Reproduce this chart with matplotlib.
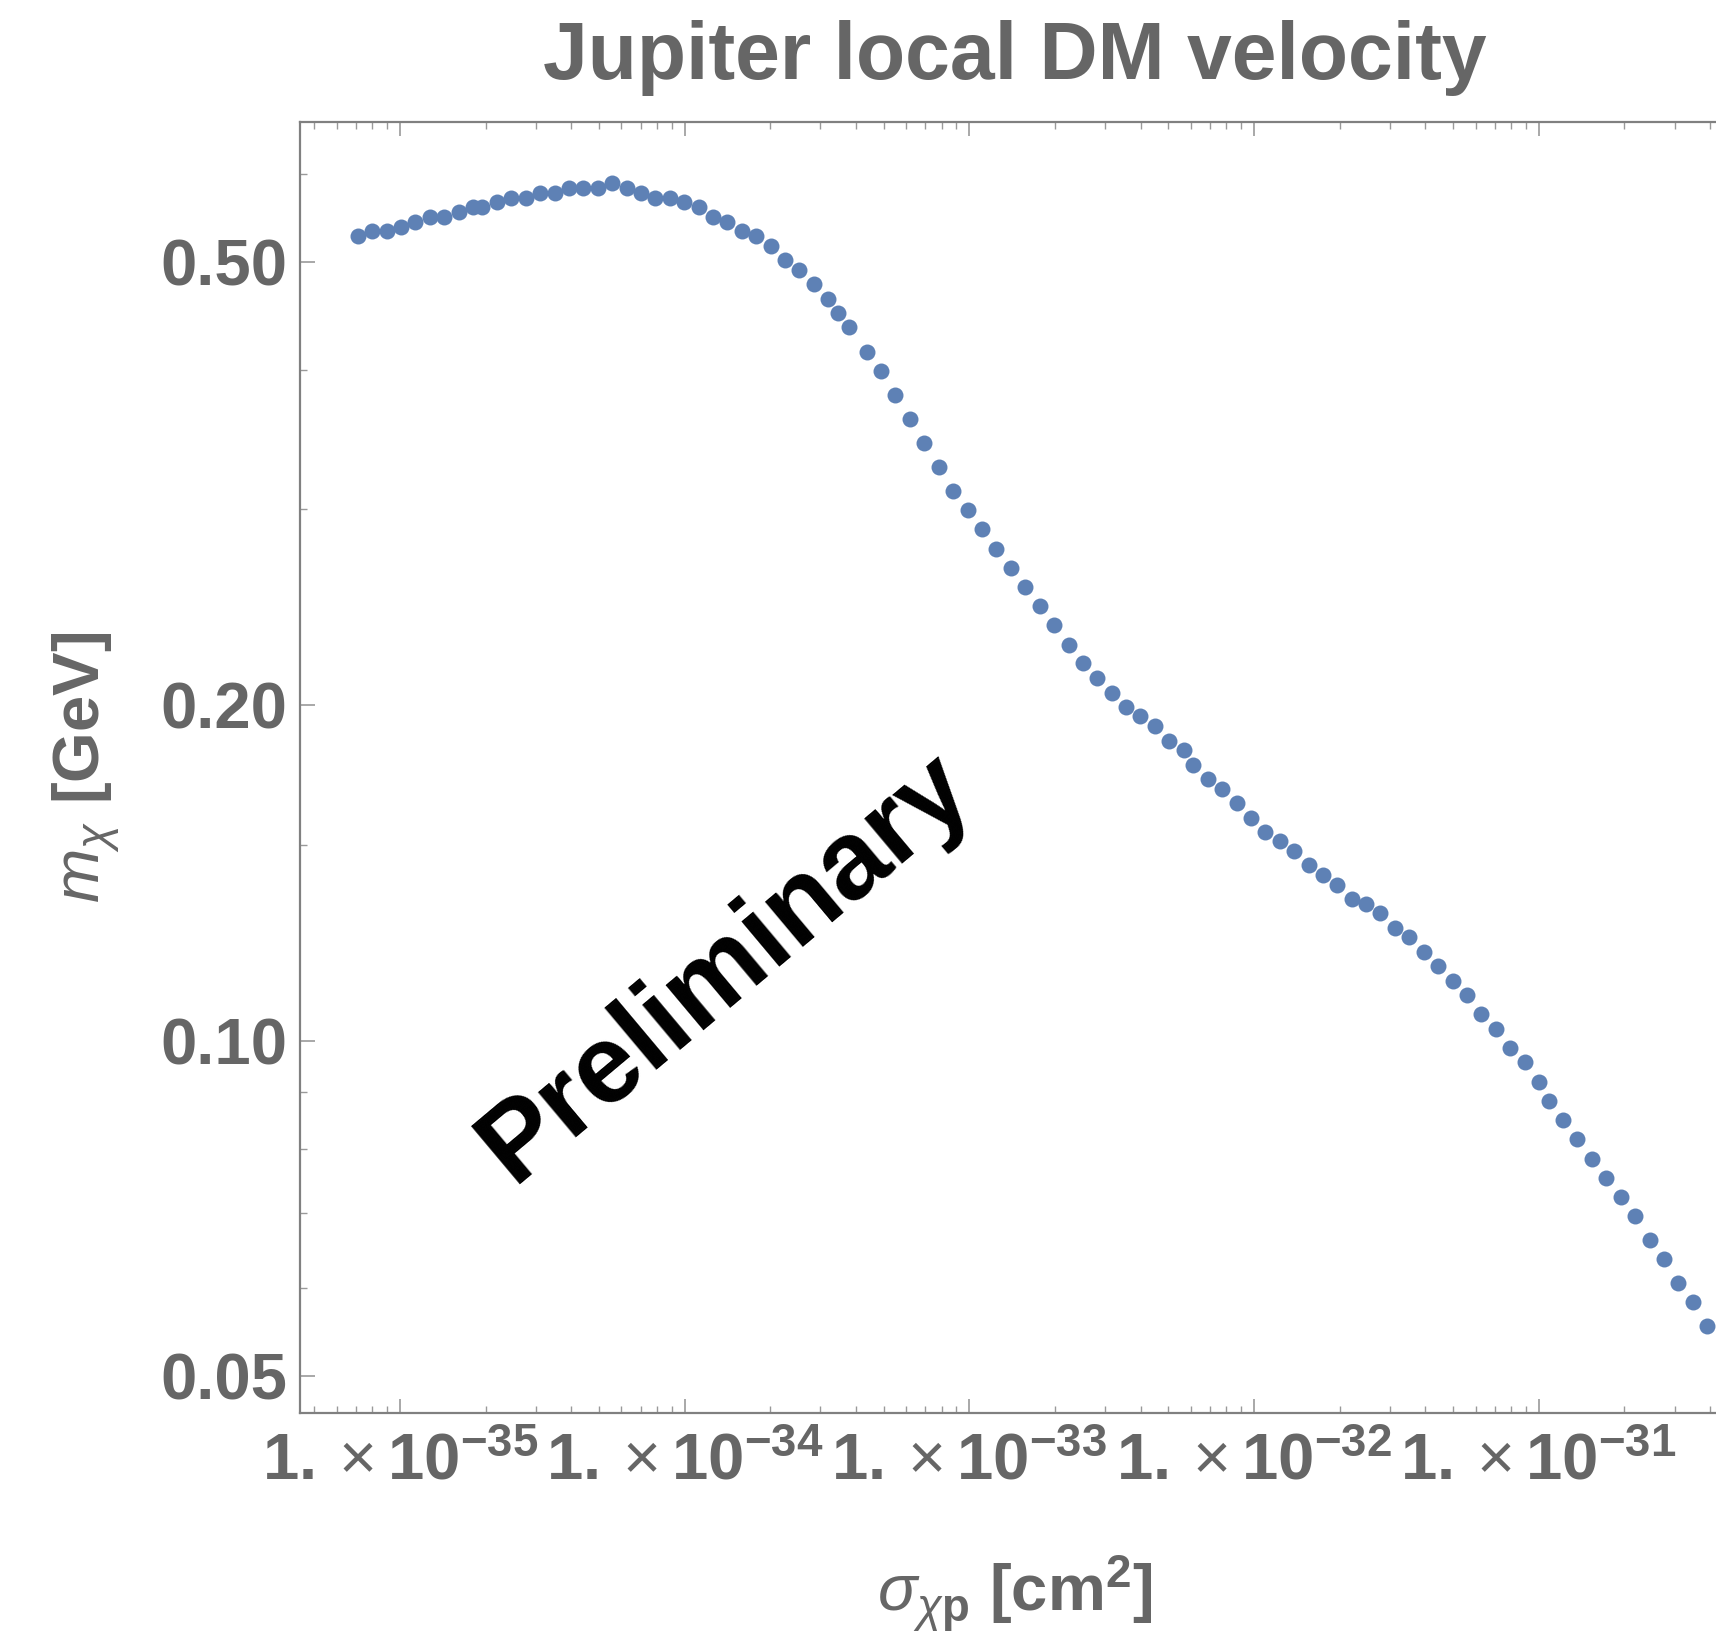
import numpy as np
import matplotlib
matplotlib.use("Agg")
import matplotlib.pyplot as plt
from matplotlib.ticker import FixedLocator, LogLocator, NullFormatter, FuncFormatter

plt.rcParams['font.family'] = ['Liberation Sans', 'DejaVu Sans']
plt.rcParams['mathtext.fontset'] = 'custom'
plt.rcParams['mathtext.rm'] = 'Liberation Sans'
plt.rcParams['mathtext.it'] = 'Liberation Sans:italic'
plt.rcParams['mathtext.bf'] = 'Liberation Sans:bold'

GRAY = "#666666"
DOT = "#5e81b5"

# sigma_chi-p in cm^2
sigma_chip = [
    7.10e-36, 7.98e-36, 8.98e-36, 1.008e-35, 1.132e-35, 1.271e-35, 1.427e-35, 1.608e-35,
    1.809e-35, 1.946e-35, 2.191e-35, 2.460e-35, 2.764e-35, 3.102e-35, 3.494e-35, 3.923e-35,
    4.404e-35, 4.948e-35, 5.568e-35, 6.256e-35, 7.022e-35, 7.882e-35, 8.857e-35, 9.97e-35,
    1.120e-34, 1.257e-34, 1.411e-34, 1.590e-34, 1.784e-34, 2.005e-34, 2.251e-34, 2.526e-34,
    2.846e-34, 3.194e-34, 3.455e-34, 3.786e-34, 4.358e-34, 4.892e-34, 5.492e-34, 6.185e-34,
    6.944e-34, 7.802e-34, 8.758e-34, 9.86e-34, 1.107e-33, 1.243e-33, 1.400e-33, 1.572e-33,
    1.766e-33, 1.983e-33, 2.233e-33, 2.506e-33, 2.813e-33, 3.160e-33, 3.549e-33, 3.985e-33,
    4.487e-33, 5.036e-33, 5.657e-33, 6.115e-33, 6.871e-33, 7.731e-33, 8.688e-33, 9.75e-33,
    1.095e-32, 1.233e-32, 1.381e-32, 1.555e-32, 1.746e-32, 1.960e-32, 2.202e-32, 2.472e-32,
    2.775e-32, 3.126e-32, 3.509e-32, 3.942e-32, 4.436e-32, 4.984e-32, 5.596e-32, 6.281e-32,
    7.075e-32, 7.941e-32, 8.925e-32, 1.002e-31, 1.083e-31, 1.216e-31, 1.365e-31, 1.538e-31,
    1.727e-31, 1.940e-31, 2.183e-31, 2.452e-31, 2.754e-31, 3.090e-31, 3.472e-31, 3.907e-31,
]

# m_chi in GeV
m_chi = [
    0.5276, 0.5330, 0.5328, 0.5378, 0.5434, 0.5487, 0.5487, 0.5544,
    0.5598, 0.5598, 0.5656, 0.5710, 0.5710, 0.5769, 0.5769, 0.5826,
    0.5826, 0.5826, 0.5883, 0.5826, 0.5769, 0.5710, 0.5710, 0.5656,
    0.5598, 0.5487, 0.5434, 0.5328, 0.5276, 0.5168, 0.5021, 0.4921,
    0.4775, 0.4635, 0.4500, 0.4369, 0.4154, 0.3994, 0.3801, 0.3617,
    0.3441, 0.3275, 0.3116, 0.2994, 0.2877, 0.2766, 0.2658, 0.2555,
    0.2455, 0.2361, 0.2268, 0.2181, 0.2116, 0.2054, 0.1994, 0.1955,
    0.1916, 0.1860, 0.1823, 0.1770, 0.1718, 0.1684, 0.1635, 0.1586,
    0.1540, 0.1511, 0.1481, 0.1438, 0.1409, 0.1381, 0.1341, 0.1327,
    0.1301, 0.1263, 0.1238, 0.1202, 0.1167, 0.1132, 0.1099, 0.1057,
    0.1025, 0.09855, 0.09568, 0.09193, 0.08839, 0.08492, 0.08159, 0.07840,
    0.07535, 0.07242, 0.06958, 0.06623, 0.06368, 0.06058, 0.05824, 0.05541,
]

x_major = [1e-35, 1e-34, 1e-33, 1e-32, 1e-31]
y_major = [0.05, 0.10, 0.20, 0.50]
y_minor = [0.06, 0.07, 0.08, 0.09, 0.15, 0.3, 0.4, 0.6]


def sci_label(x, pos):
    e = int(round(np.log10(x)))
    return r'$\mathbf{1.}\times\mathbf{10}^{\mathbf{%d}}$' % e


fig = plt.figure(figsize=(17.16, 16.35), dpi=100)
# axes run past the right edge of the canvas, like the cropped original
ax = fig.add_axes([0.1748, 0.1358, 0.8333, 0.7896])

ax.plot(sigma_chip, m_chi, 'o', color=DOT, markersize=11.5, markeredgewidth=0, clip_on=False)

ax.set_xscale('log')
ax.set_yscale('log')
ax.set_xlim(10 ** -35.3512, 10 ** -30.3284)
ax.set_ylim(0.04634, 0.6679)

ax.xaxis.set_major_locator(FixedLocator(x_major))
ax.xaxis.set_minor_locator(LogLocator(base=10, subs=np.arange(2, 10), numticks=100))
ax.xaxis.set_major_formatter(FuncFormatter(sci_label))
ax.xaxis.set_minor_formatter(NullFormatter())

ax.yaxis.set_major_locator(FixedLocator(y_major))
ax.yaxis.set_minor_locator(FixedLocator(y_minor))
ax.yaxis.set_major_formatter(FuncFormatter(lambda v, p: "%.2f" % v))
ax.yaxis.set_minor_formatter(NullFormatter())

ax.tick_params(which='both', direction='in', top=True, right=False, color='#999999',
               labelcolor=GRAY, labelsize=47)
ax.tick_params(axis='x', which='major', length=10, width=1.2, pad=14)
ax.tick_params(axis='x', which='minor', length=5, width=1.0)
ax.tick_params(axis='y', which='major', length=11, width=1.2, pad=9)
ax.tick_params(axis='y', which='minor', length=5, width=1.0)
for lab in ax.get_xticklabels() + ax.get_yticklabels():
    lab.set_fontweight('bold')

for sp in ax.spines.values():
    sp.set_color('#808080')
    sp.set_linewidth(1.6)
ax.spines['right'].set_visible(False)

ax.set_title('Jupiter local DM velocity', fontsize=58, fontweight='bold', color=GRAY, pad=31)
ax.set_xlabel(r'$\sigma_{\chi\mathbf{p}}$ [cm$^{\mathbf{2}}$]', fontsize=47,
              fontweight='bold', color=GRAY, labelpad=44)
ax.set_ylabel(r'$m_{\chi}$ [GeV]', fontsize=47, fontweight='bold', color=GRAY, labelpad=28)

fig.text(0.299, 0.2758, 'Preliminary', fontsize=80, fontweight='bold', color='black',
         rotation=40, rotation_mode='anchor', ha='left', va='baseline')

fig.savefig('out.png', dpi=100)
